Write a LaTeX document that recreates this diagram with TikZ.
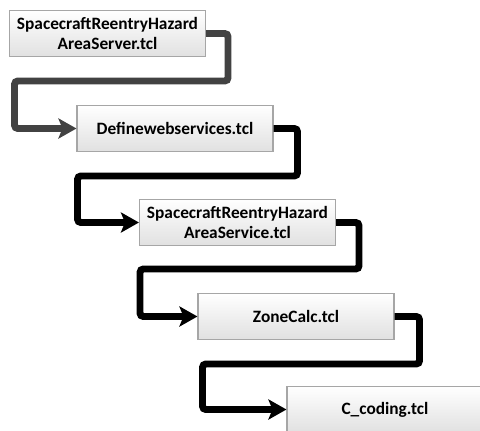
\documentclass[tikz,border=0pt]{standalone}
\usepackage{fontspec}
\setmainfont{Carlito}
\usepackage{tikz}
\usetikzlibrary{arrows.meta}

\definecolor{linkgray}{HTML}{424242}
\definecolor{boxline}{HTML}{A6A6A6}

\begin{document}
\begin{tikzpicture}[x=0.75pt,y=-0.75pt,
	tclfile/.style={draw=boxline, line width=0.8pt, top color=white, bottom color=black!12,
		minimum width=147pt, minimum height=35pt, align=center, inner sep=1pt,
		font=\fontsize{13}{15}\selectfont\bfseries},
	link/.style={line width=5.2pt, rounded corners=2.5pt,
		-{Stealth[length=13.5pt, width=15pt, inset=3pt]}}]
	\clip (0,0) rectangle (480,430);
	\fill[white] (0,0) rectangle (480,430);
				\node[tclfile] (server) at (107.5,33.5) {SpacecraftReentryHazard\\AreaServer.tcl};
				\node[tclfile] (define) at (175,128.5) {Definewebservices.tcl};
				\draw[link, linkgray] (server.east) -- ++(22,0) -- ++(0,47.5) -- ++(-213.5,0) |- (define.west);
				\node[tclfile] (service) at (237.5,222.5) {SpacecraftReentryHazard\\AreaService.tcl};
				\draw[link] (define.east) -- ++(24,0) -- ++(0,47.5) -- ++(-220,0) |- (service.west);
				\node[tclfile] (zone) at (296,316.5) {ZoneCalc.tcl};
				\draw[link] (service.east) -- ++(23,0) -- ++(0,46.5) -- ++(-219,0) |- (zone.west);
				\node[tclfile] (ccode) at (385,409.5) {C\_coding.tcl};
				\draw[link] (zone.east) -- ++(25,0) -- ++(0,47.5) -- ++(-217,0) |- (ccode.west);
\end{tikzpicture}
\end{document}
